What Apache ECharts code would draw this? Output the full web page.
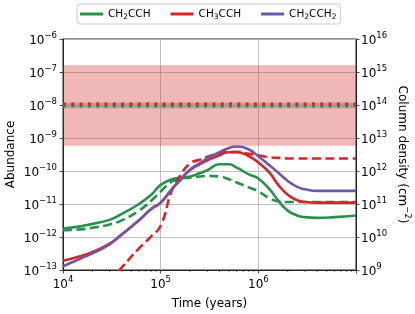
<!DOCTYPE html>
<html>
<head>
<meta charset="utf-8">
<script src="https://cdn.jsdelivr.net/npm/echarts@6/dist/echarts.min.js"></script>
<style>
html,body{margin:0;padding:0;background:#fff;}
#chart{width:415px;height:314px;}
</style>
</head>
<body>
<div id="chart"></div>
<script>
// ---- data ----
const timeYears = [1e4, 1.5e4, 2e4, 3e4, 4e4, 6e4, 8e4, 1e5, 1.3e5, 1.6e5, 2e5, 2.5e5, 3e5, 4e5, 5e5, 6e5, 8e5, 1e6, 1.3e6, 1.6e6, 2e6, 2.5e6, 3e6, 4e6, 6e6, 1e7];
const ch2cchSolid  = [1.8e-12, 2.1e-12, 2.5e-12, 3.3e-12, 5.0e-12, 1.0e-11, 1.9e-11, 3.8e-11, 5.6e-11, 6.3e-11, 6.8e-11, 8.5e-11, 1.05e-10, 1.6e-10, 1.6e-10, 1.26e-10, 7.9e-11, 5.9e-11, 2.8e-11, 1.26e-11, 6.3e-12, 4.5e-12, 4.0e-12, 3.8e-12, 4.0e-12, 4.5e-12];
const ch2cchDashed = [1.6e-12, 1.7e-12, 1.9e-12, 2.4e-12, 3.2e-12, 6.3e-12, 1.26e-11, 2.4e-11, 4.8e-11, 5.9e-11, 6.3e-11, 6.8e-11, 7.1e-11, 6.8e-11, 5.6e-11, 4.5e-11, 3.2e-11, 2.4e-11, 1.5e-11, 1.2e-11, 1.15e-11, 1.15e-11, 1.15e-11, 1.15e-11, 1.15e-11, 1.15e-11];
const ch3cchSolid  = [1.9e-13, 2.6e-13, 3.5e-13, 6.3e-13, 1.2e-12, 3.2e-12, 7.1e-12, 1.1e-11, 2.8e-11, 5.4e-11, 1.07e-10, 1.6e-10, 2.1e-10, 3.0e-10, 3.7e-10, 3.7e-10, 2.8e-10, 1.8e-10, 8.9e-11, 3.8e-11, 1.9e-11, 1.3e-11, 1.15e-11, 1.1e-11, 1.1e-11, 1.1e-11];
const ch3cchDashed = [null, null, null, 4.5e-14, 1.2e-13, 4.5e-13, 1.05e-12, 2.2e-12, 2.5e-11, 7.6e-11, 1.7e-10, 2.2e-10, 2.7e-10, 3.4e-10, 3.8e-10, 3.8e-10, 3.3e-10, 3.0e-10, 2.6e-10, 2.5e-10, 2.4e-10, 2.4e-10, 2.4e-10, 2.4e-10, 2.4e-10, 2.4e-10];
const ch2cch2Solid = [1.3e-13, 2.2e-13, 3.2e-13, 6.0e-13, 1.2e-12, 3.2e-12, 7.1e-12, 1.1e-11, 2.8e-11, 5.6e-11, 1.1e-10, 1.7e-10, 2.4e-10, 3.7e-10, 5.0e-10, 5.5e-10, 4.5e-10, 2.8e-10, 1.5e-10, 8.9e-11, 5.0e-11, 3.3e-11, 2.8e-11, 2.5e-11, 2.5e-11, 2.5e-11];

const obsTimes = [1e4, 1e7];
const obsCH2CCH = 9.4e-9;
const obsCH3CCH = 1.08e-8;
const ch3cchRange = [5.8e-10, 1.6e-7];
const ch2cchRange = [7.9e-9, 1.2e-8];

const xTickValues = [1e4, 1e5, 1e6, 1e7];
const minorTickTimes = [2e4,3e4,4e4,5e4,6e4,7e4,8e4,9e4,2e5,3e5,4e5,5e5,6e5,7e5,8e5,9e5,2e6,3e6,4e6,5e6,6e6,7e6,8e6,9e6];
const abundanceRange = [1e-13, 1e-6];
const columnRange = [1e9, 1e16];

const legendNames = ['CH2CCH', 'CH3CCH', 'CH2CCH2'];
const legendRich = {
  'CH2CCH': 'CH{s|2}CCH',
  'CH3CCH': 'CH{s|3}CCH',
  'CH2CCH2': 'CH{s|2}CCH{s|2}'
};

// ---- styles ----
const FONT = 'DejaVu Sans';
const GREEN = '#27924a';
const RED = '#d62728';
const PURPLE = '#7256ab';
const INK = '#222';
const SMOOTH = 0.5;

function pow10Label(v) {
  const e = Math.round(Math.log10(v));
  const es = e < 0 ? '\u2212' + (-e) : String(e);
  return '{b|10}{e|' + es + '}';
}
const powRich = {
  b: {fontFamily: FONT, fontSize: 12, color: '#000', lineHeight: 16, verticalAlign: 'bottom'},
  e: {fontFamily: FONT, fontSize: 8.5, color: '#000', lineHeight: 16, verticalAlign: 'top'}
};

function pairs(vals) { return timeYears.map((t, i) => [t, vals[i]]); }

const chart = echarts.init(document.getElementById('chart'), null, {renderer: 'canvas'});

const option = {
  animation: false,
  backgroundColor: '#fff',
  textStyle: {fontFamily: FONT},
  grid: {left: 63, right: 59, top: 39, bottom: 44, outerBoundsMode: 'none', containLabel: false,
         show: true, borderColor: INK, borderWidth: 1, backgroundColor: 'transparent'},
  legend: {
    data: legendNames,
    left: 77, top: 4,
    padding: [3, 4, 3, 3],
    itemGap: 20,
    itemWidth: 23, itemHeight: 3,
    icon: 'rect',
    borderColor: '#cccccc', borderWidth: 1, borderRadius: 3,
    formatter: n => legendRich[n],
    textStyle: {
      fontFamily: FONT, fontSize: 10.5, color: '#000', lineHeight: 14,
      rich: {s: {fontFamily: FONT, fontSize: 7.5, color: '#000', lineHeight: 14, verticalAlign: 'bottom'}}
    }
  },
  xAxis: {
    type: 'log', logBase: 10,
    min: xTickValues[0], max: xTickValues[xTickValues.length - 1],
    splitNumber: 3,
    name: 'Time (years)', nameLocation: 'middle', nameGap: 28, nameMoveOverlap: false,
    nameTextStyle: {fontFamily: FONT, fontSize: 12, color: '#000'},
    axisLine: {show: true, onZero: false, lineStyle: {color: INK, width: 1}},
    axisTick: {show: true, length: 3.5, lineStyle: {color: INK, width: 0.8}},
    axisLabel: {
      margin: 5,
      formatter: v => (Math.round(Math.log10(v)) >= 7 ? '' : pow10Label(v)),
      rich: powRich
    },
    splitLine: {show: true, lineStyle: {color: '#b0b0b0', width: 0.8}}
  },
  yAxis: [
    {
      type: 'log', logBase: 10,
      min: abundanceRange[0], max: abundanceRange[1],
      splitNumber: 7,
      position: 'left',
      name: 'Abundance', nameLocation: 'middle', nameGap: 46, nameRotate: 90, nameMoveOverlap: false,
      nameTextStyle: {fontFamily: FONT, fontSize: 12, color: '#000'},
      axisLine: {show: true, lineStyle: {color: INK, width: 1}},
      axisTick: {show: true, length: 3.5, lineStyle: {color: INK, width: 0.8}},
      axisLabel: {margin: 6, formatter: pow10Label, rich: powRich},
      splitLine: {show: true, lineStyle: {color: '#b0b0b0', width: 0.8}}
    },
    {
      type: 'log', logBase: 10,
      min: columnRange[0], max: columnRange[1],
      splitNumber: 7,
      position: 'right',
      name: '{t|Column density (cm}{e|\u22122}{t|)}', nameLocation: 'middle', nameGap: 40, nameRotate: -90, nameMoveOverlap: false,
      nameTextStyle: {
        fontFamily: FONT, fontSize: 12, color: '#000',
        rich: {
          t: {fontFamily: FONT, fontSize: 12, color: '#000', lineHeight: 16, verticalAlign: 'bottom'},
          e: {fontFamily: FONT, fontSize: 8.5, color: '#000', lineHeight: 16, verticalAlign: 'top'}
        }
      },
      axisLine: {show: true, lineStyle: {color: INK, width: 1}},
      axisTick: {show: true, length: 3.5, lineStyle: {color: INK, width: 0.8}},
      axisLabel: {margin: 5, formatter: pow10Label, rich: powRich},
      splitLine: {show: false}
    }
  ],
  series: [
    {
      name: 'obs CH3CCH range', type: 'line', yAxisIndex: 0,
      data: [], silent: true, symbol: 'none',
      markArea: {
        silent: true,
        itemStyle: {color: 'rgba(214,39,40,0.33)'},
        data: [[{yAxis: ch3cchRange[0]}, {yAxis: ch3cchRange[1]}]]
      },
      z: 1
    },
    {
      name: 'obs CH2CCH range', type: 'line', yAxisIndex: 0,
      data: [], silent: true, symbol: 'none',
      markArea: {
        silent: true,
        itemStyle: {color: 'rgba(120,125,105,0.4)'},
        data: [[{yAxis: ch2cchRange[0]}, {yAxis: ch2cchRange[1]}]]
      },
      z: 1
    },
    {
      name: 'obs CH2CCH', type: 'line', yAxisIndex: 0,
      data: obsTimes.map(t => [t, obsCH2CCH]), symbol: 'none',
      lineStyle: {color: GREEN, width: 3, type: [3, 5.3], cap: 'butt'}, z: 2
    },
    {
      name: 'obs CH3CCH', type: 'line', yAxisIndex: 0,
      data: obsTimes.map(t => [t, obsCH3CCH]), symbol: 'none',
      lineStyle: {color: RED, width: 3, type: [3, 5.3], cap: 'butt'}, z: 2
    },
    {
      name: 'CH2CCH', type: 'line', yAxisIndex: 0, data: pairs(ch2cchSolid),
      symbol: 'none', smooth: SMOOTH, color: GREEN,
      lineStyle: {color: GREEN, width: 2.6}, z: 3
    },
    {
      name: 'CH2CCH dashed', type: 'line', yAxisIndex: 0, data: pairs(ch2cchDashed),
      symbol: 'none', smooth: SMOOTH, color: GREEN,
      lineStyle: {color: GREEN, width: 2.6, type: [9, 4.5]}, z: 3
    },
    {
      name: 'CH3CCH', type: 'line', yAxisIndex: 0, data: pairs(ch3cchSolid),
      symbol: 'none', smooth: SMOOTH, color: RED,
      lineStyle: {color: RED, width: 2.6}, z: 3
    },
    {
      name: 'CH3CCH dashed', type: 'line', yAxisIndex: 0, data: pairs(ch3cchDashed),
      symbol: 'none', smooth: SMOOTH, color: RED, connectNulls: false,
      lineStyle: {color: RED, width: 2.6, type: [9, 4.5]}, z: 3
    },
    {
      name: 'CH2CCH2', type: 'line', yAxisIndex: 0, data: pairs(ch2cch2Solid),
      symbol: 'none', smooth: SMOOTH, color: PURPLE,
      lineStyle: {color: PURPLE, width: 2.6}, z: 3
    },
    {
      name: 'minor ticks', type: 'custom', yAxisIndex: 0, silent: true, clip: false,
      data: minorTickTimes.map(t => [t]),
      renderItem: function (params, api) {
        const p = api.coord([api.value(0), abundanceRange[0]]);
        return {
          type: 'line',
          shape: {x1: p[0], y1: p[1], x2: p[0], y2: p[1] + 2},
          style: {stroke: INK, lineWidth: 0.6}
        };
      },
      z: 5
    }
  ]
};
chart.setOption(option);
</script>
</body>
</html>
